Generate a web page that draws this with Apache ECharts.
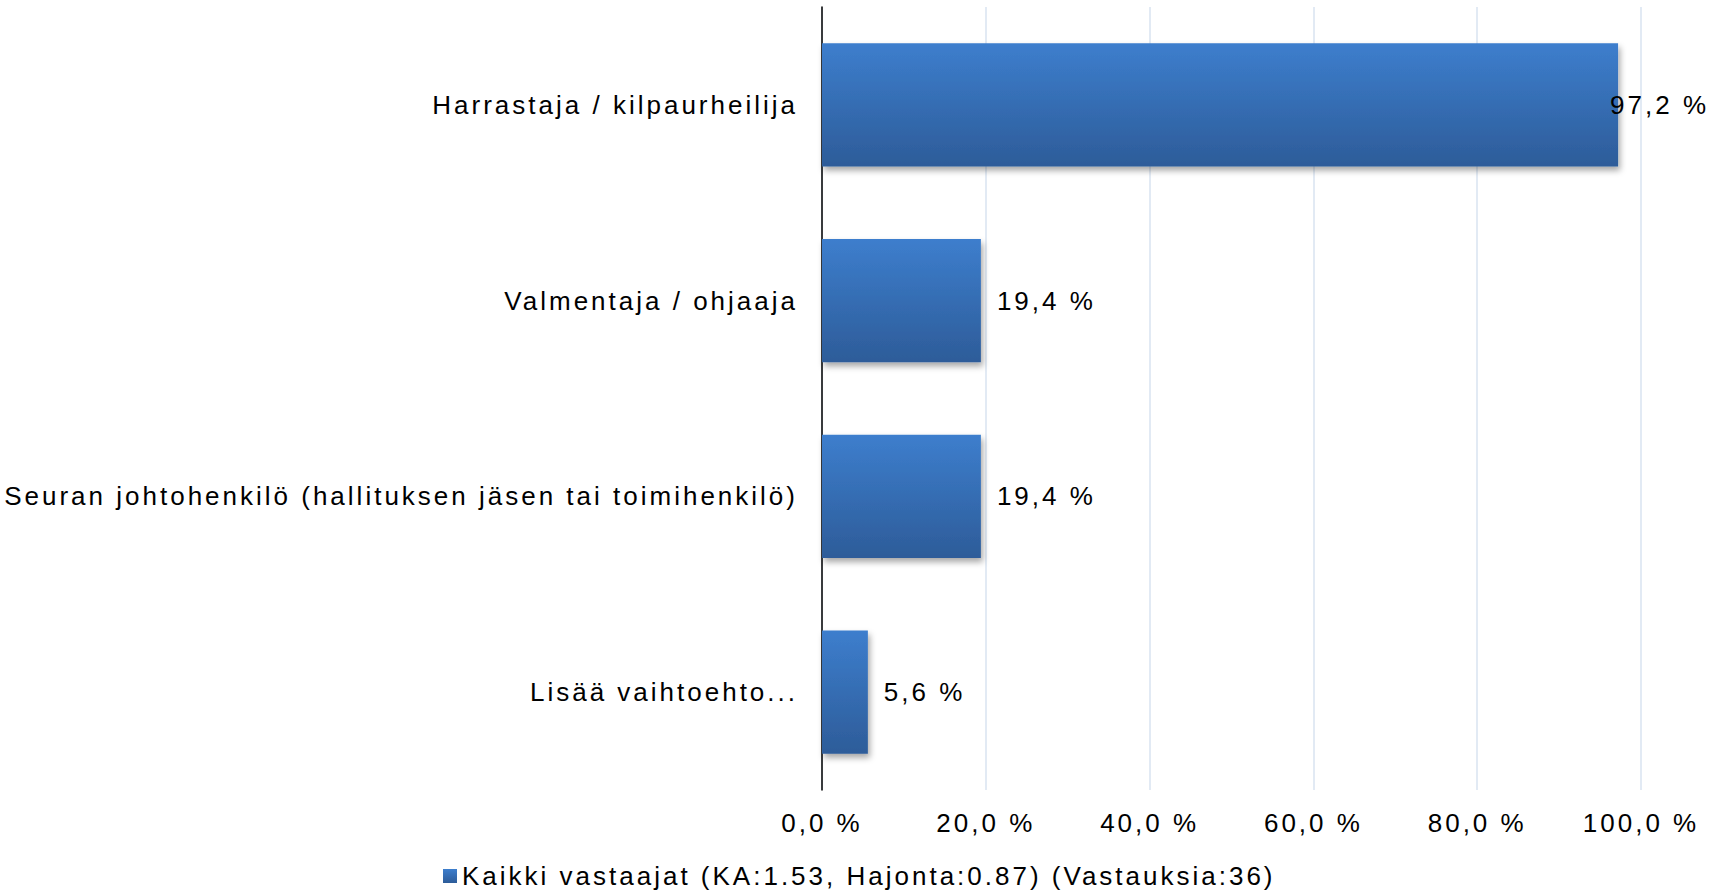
<!DOCTYPE html>
<html>
<head>
<meta charset="utf-8">
<script src="https://cdn.jsdelivr.net/npm/echarts@6/dist/echarts.min.js"></script>
<style>
  html, body { margin: 0; padding: 0; background: #fff; }
  #chart { width: 1727px; height: 892px; }
  /* Excel-style wide character spacing */
  #chart text { letter-spacing: 3px; }
</style>
</head>
<body>
<div id="chart"></div>
<script>
const categories = [
  'Harrastaja / kilpaurheilija',
  'Valmentaja / ohjaaja',
  'Seuran johtohenkilö (hallituksen jäsen tai toimihenkilö)',
  'Lisää vaihtoehto...'
];
const values = [97.2, 19.4, 19.4, 5.6];
const seriesName = 'Kaikki vastaajat (KA:1.53, Hajonta:0.87) (Vastauksia:36)';
const tickValues = [0, 20, 40, 60, 80, 100];

const fmt = v => v.toFixed(1).replace('.', ',') + ' %';
const font = 'Liberation Sans, Arial, sans-serif';

const chart = echarts.init(document.getElementById('chart'), null, { renderer: 'svg' });

chart.setOption({
  animation: false,
  grid: { left: 822, right: 86, top: 7, bottom: 102 },
  legend: {
    top: 862,
    left: 443,
    padding: 0,
    icon: 'rect',
    itemWidth: 14,
    itemHeight: 14,
    itemGap: 4,
    textStyle: { fontFamily: font, fontSize: 26, lineHeight: 28, color: '#000' },
    data: [seriesName]
  },
  xAxis: {
    type: 'value',
    min: tickValues[0],
    max: tickValues[tickValues.length - 1],
    interval: 20,
    axisLine: { show: false },
    axisTick: { show: false },
    axisLabel: { margin: 20, fontFamily: font, fontSize: 26, color: '#000', formatter: fmt },
    splitLine: { lineStyle: { color: '#d9e3f1', width: 1.5 } }
  },
  yAxis: {
    type: 'category',
    inverse: true,
    data: categories,
    axisLine: { show: true, lineStyle: { color: '#000', width: 1.5 } },
    axisTick: { show: false },
    axisLabel: { margin: 24, fontFamily: font, fontSize: 26, color: '#000' }
  },
  series: [{
    name: seriesName,
    type: 'bar',
    barCategoryGap: '37%',
    data: values.map((v, i) => i === 0 ? { value: v, label: { offset: [-24, 0] } } : v),
    itemStyle: {
      color: new echarts.graphic.LinearGradient(0, 0, 0, 1, [
        { offset: 0, color: '#3d7ecd' },
        { offset: 1, color: '#2d5c99' }
      ]),
      shadowColor: 'rgba(0,0,0,0.35)',
      shadowBlur: 6,
      shadowOffsetX: 2,
      shadowOffsetY: 4
    },
    label: {
      show: true,
      position: 'right',
      distance: 16,
      fontFamily: font,
      fontSize: 26,
      color: '#000',
      formatter: p => fmt(p.value)
    }
  }]
});
</script>
</body>
</html>
